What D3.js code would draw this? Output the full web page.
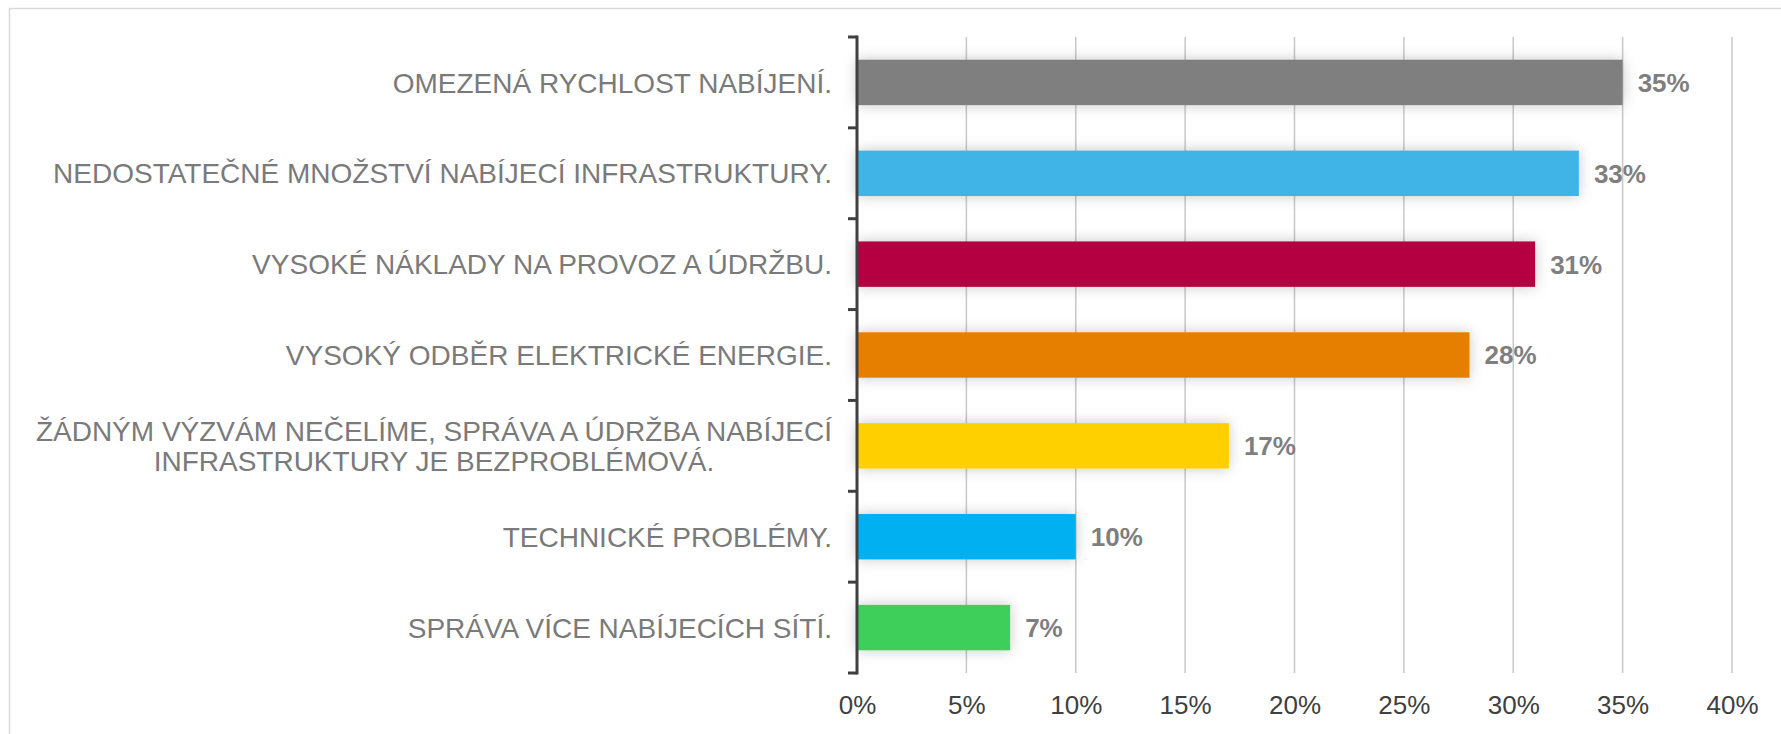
<!DOCTYPE html>
<html>
<head>
<meta charset="utf-8">
<script src="https://cdn.jsdelivr.net/npm/d3@7"></script>
<style>
  body { margin: 0; background: #fff; }
  text { font-family: "Liberation Sans", Arial, sans-serif; }
</style>
</head>
<body>
<div id="chart"></div>
<script>
const width = 1781,
      height = 734;

// data, top bar first
const categories = [
  ['OMEZENÁ RYCHLOST NABÍJENÍ.'],
  ['NEDOSTATEČNÉ MNOŽSTVÍ NABÍJECÍ INFRASTRUKTURY.'],
  ['VYSOKÉ NÁKLADY NA PROVOZ A ÚDRŽBU.'],
  ['VYSOKÝ ODBĚR ELEKTRICKÉ ENERGIE.'],
  ['ŽÁDNÝM VÝZVÁM NEČELÍME, SPRÁVA A ÚDRŽBA NABÍJECÍ', 'INFRASTRUKTURY JE BEZPROBLÉMOVÁ.'],
  ['TECHNICKÉ PROBLÉMY.'],
  ['SPRÁVA VÍCE NABÍJECÍCH SÍTÍ.']
];
const values = [35, 33, 31, 28, 17, 10, 7];
const colors = ['#7f7f7f', '#41b4e6', '#b4003f', '#e67f00', '#ffd000', '#00b0f0', '#3ecf5a'];
const xTicks = [0, 5, 10, 15, 20, 25, 30, 35, 40];

const plotLeft = 857, plotRight = 1732, plotTop = 37, plotBottom = 673;

const svg = d3.select('#chart')
              .append('svg')
              .attr('width', width)
              .attr('height', height);

// soft shadow under the bars
const defs = svg.append('defs');
defs.append('filter')
    .attr('id', 'shadow')
    .attr('x', '-20%').attr('y', '-60%')
    .attr('width', '140%').attr('height', '220%')
    .append('feDropShadow')
    .attr('dx', 0).attr('dy', 0)
    .attr('stdDeviation', 7)
    .attr('flood-color', '#000')
    .attr('flood-opacity', 0.22);

// outer frame
svg.append('path')
   .attr('d', `M9.5,${height} V8.5 H${width}`)
   .attr('fill', 'none')
   .attr('stroke', '#d9d9d9')
   .attr('stroke-width', 1.5);

const x = d3.scaleLinear()
            .domain([0, 40])
            .range([plotLeft, plotRight]);

const y = d3.scaleBand()
            .domain(d3.range(categories.length))
            .range([plotTop, plotBottom])
            .paddingInner(0.5)
            .paddingOuter(0.25);

// vertical gridlines
svg.append('g')
   .selectAll('line')
   .data(xTicks.slice(1))
   .join('line')
   .attr('x1', d => x(d)).attr('x2', d => x(d))
   .attr('y1', plotTop).attr('y2', plotBottom)
   .attr('stroke', '#c8c8c8')
   .attr('stroke-width', 1.5);

// bars
svg.append('g')
   .selectAll('rect')
   .data(values)
   .join('rect')
   .attr('x', x(0))
   .attr('y', (d, i) => y(i))
   .attr('width', d => x(d) - x(0))
   .attr('height', y.bandwidth())
   .attr('fill', (d, i) => colors[i])
   .attr('filter', 'url(#shadow)');

// value labels
svg.append('g')
   .selectAll('text')
   .data(values)
   .join('text')
   .attr('x', d => x(d) + 15)
   .attr('y', (d, i) => y(i) + y.bandwidth() / 2)
   .attr('dy', '0.36em')
   .attr('fill', '#7f7f7f')
   .attr('font-weight', 'bold')
   .attr('font-size', 26)
   .text(d => d + '%');

// category axis: line with ticks between categories
const bounds = d3.range(categories.length + 1).map(i => plotTop + i * (plotBottom - plotTop) / categories.length);
const axis = svg.append('g');
axis.append('line')
    .attr('x1', plotLeft).attr('x2', plotLeft)
    .attr('y1', plotTop - 1.5).attr('y2', plotBottom + 1.5)
    .attr('stroke', '#404040')
    .attr('stroke-width', 3);
axis.selectAll('.tick')
    .data(bounds)
    .join('line')
    .attr('class', 'tick')
    .attr('x1', plotLeft - 9).attr('x2', plotLeft)
    .attr('y1', d => d).attr('y2', d => d)
    .attr('stroke', '#404040')
    .attr('stroke-width', 3);

// category labels (wrapped ones are centred on the first line)
const labels = svg.append('g')
                  .selectAll('text')
                  .data(categories)
                  .join('text')
                  .attr('text-anchor', 'end')
                  .attr('fill', '#7a7a7a')
                  .attr('font-size', 28)
                  .attr('transform', (d, i) => `translate(${plotLeft - 25},${y(i) + y.bandwidth() / 2})`);

labels.selectAll('tspan')
      .data(d => d.map((t, j) => ({ t, j, n: d.length })))
      .join('tspan')
      .attr('x', 0)
      .attr('y', d => (d.j - (d.n - 1) / 2) * 30.5)
      .attr('dy', '0.36em')
      .text(d => d.t);

labels.filter(d => d.length > 1).each(function() {
  const spans = d3.select(this).selectAll('tspan');
  const w = spans.node().getComputedTextLength();
  d3.select(this).attr('text-anchor', 'middle');
  spans.attr('x', -w / 2);
});

// x axis tick labels
const xAxis = d3.axisBottom(x)
                .tickValues(xTicks)
                .tickSize(0)
                .tickPadding(0)
                .tickFormat(d => d + '%');

const xAxisGroup = svg.append('g')
                      .attr('transform', `translate(0,${plotBottom + 23})`)
                      .call(xAxis);
xAxisGroup.select('.domain').remove();
xAxisGroup.selectAll('text')
          .attr('fill', '#404040')
          .attr('font-size', 26)
          .attr('font-family', '"Liberation Sans", Arial, sans-serif');
</script>
</body>
</html>
